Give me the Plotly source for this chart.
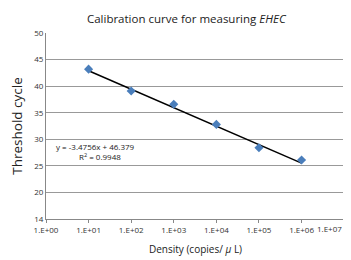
import plotly.graph_objects as go
import numpy as np

density = [1e1, 1e2, 1e3, 1e4, 1e5, 1e6]
threshold_cycle = [43.2, 39.1, 36.6, 32.8, 28.4, 26.1]
slope = -3.4756
intercept = 46.379
r2 = 0.9948
x_ticks = [1e0, 1e1, 1e2, 1e3, 1e4, 1e5, 1e6, 1e7]
x_tick_labels = ["1.E+00", "1.E+01", "1.E+02", "1.E+03", "1.E+04", "1.E+05", "1.E+06", "1.E+07"]
y_ticks = [15, 20, 25, 30, 35, 40, 45, 50]
y_tick_labels = ["14", "20", "25", "30", "35", "40", "45", "50"]

font = "Open Sans, Noto Sans, sans-serif"

trend_x = [density[0], density[-1]]
trend_y = [slope * np.log10(v) + intercept for v in trend_x]

fig = go.Figure()
fig.add_trace(go.Scatter(x=trend_x, y=trend_y, mode="lines",
                         line=dict(color="black", width=1.5), hoverinfo="skip"))
fig.add_trace(go.Scatter(x=density, y=threshold_cycle, mode="markers",
                         marker=dict(symbol="diamond", size=7, color="#4a7ebb")))

fig.add_annotation(x=1.17, y=28.7, xref="x", yref="y",
                   text=f"y = {slope}x + {intercept}", showarrow=False,
                   font=dict(family=font, size=8, color="#222"))
fig.add_annotation(x=1.27, y=26.7, xref="x", yref="y",
                   text=f"R<sup>2</sup> = {r2}", showarrow=False,
                   font=dict(family=font, size=8, color="#222"))

# last tick label sits at the right edge; drawn as an annotation so it stays inside the page
tick_text_shown = x_tick_labels[:-1] + [""]
fig.add_annotation(x=1, y=0, xref="paper", yref="paper", xanchor="right", yanchor="top",
                   xshift=-1, yshift=-2, text=x_tick_labels[-1], showarrow=False,
                   font=dict(family=font, size=8, color="#333"))

# page body adds an 8px margin; the figure is sized to fit the 351x260 window
fig.update_layout(
    width=343, height=252,
    margin=dict(l=38, r=6, t=25, b=41),
    paper_bgcolor="white", plot_bgcolor="white",
    showlegend=False,
    title=dict(text="Calibration curve for measuring <i>EHEC</i>", x=0.52, xanchor="center",
               y=0.955, yanchor="middle",
               font=dict(family=font, size=11.5, color="#222")),
    xaxis=dict(type="log", range=[0, 7.02], tickvals=x_ticks, ticktext=tick_text_shown,
               showgrid=False, showline=True, linecolor="#888", linewidth=1,
               ticks="outside", ticklen=3, tickcolor="#888", automargin=False,
               tickfont=dict(family=font, size=8, color="#333"),
               title=dict(text="Density (copies/ <i>μ</i> L)", standoff=12,
                          font=dict(family=font, size=10, color="#222")),
               zeroline=False),
    yaxis=dict(range=[15, 50], tickvals=y_ticks, ticktext=y_tick_labels,
               showgrid=True, gridcolor="#999", gridwidth=1, automargin=False,
               showline=True, linecolor="#888", linewidth=1, ticks="",
               tickfont=dict(family=font, size=8, color="#333"),
               title=dict(text="Threshold cycle", standoff=8,
                          font=dict(family=font, size=13.5, color="#222")),
               zeroline=False),
)

fig.write_html("out.html")
